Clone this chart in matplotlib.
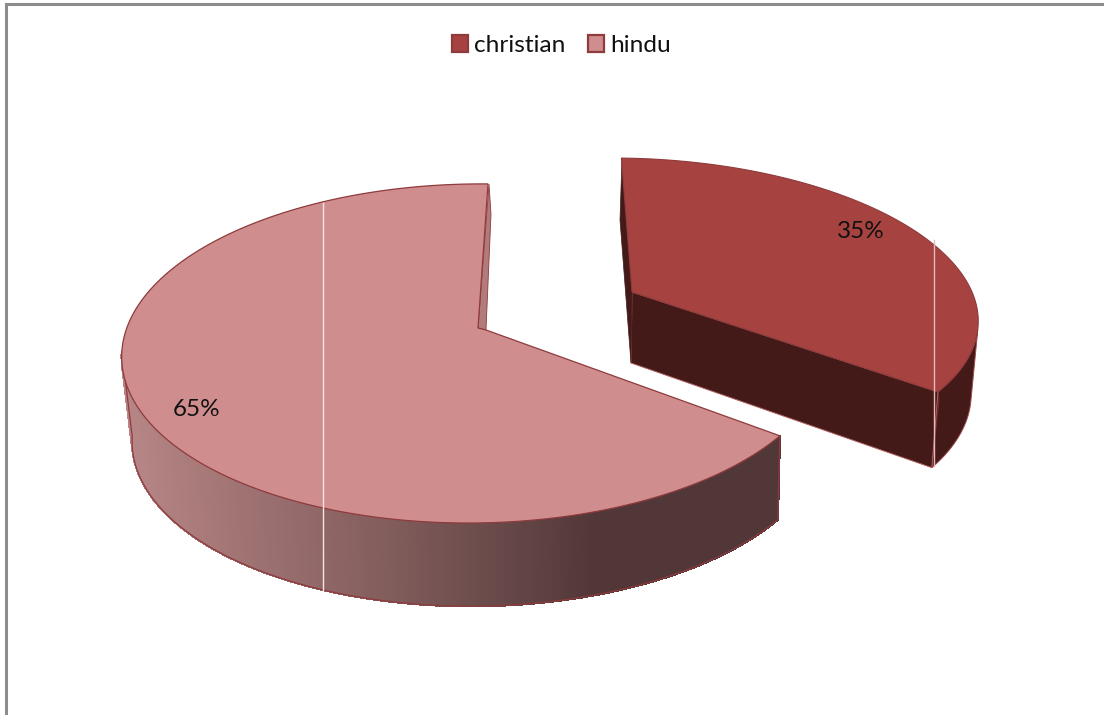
import numpy as np
import matplotlib
matplotlib.use("Agg")
import matplotlib.pyplot as plt
from matplotlib.collections import PolyCollection
from matplotlib.colors import LinearSegmentedColormap
from matplotlib.patches import Patch, Polygon

plt.rcParams["font.family"] = ["Lato", "DejaVu Sans"]

# Religion shares, in percent
categories = ["christian", "hindu"]
shares = [35, 65]

TOP_COLORS = {"christian": "#a64340", "hindu": "#cf8e8d"}
EDGE = "#8f3a3c"
START_ANGLE = -88.3


def project(theta_deg, apex, ax_x, ax_y, k, m, shear=0.0, tilt=0.0):
    """Perspective projection of a point on the unit rim to figure pixels."""
    t = np.radians(np.asarray(theta_deg, dtype=float))
    u, v = np.cos(t), np.sin(t)
    d = 1 - k * v - m * u
    return np.column_stack([apex[0] + (ax_x * u + shear * v) / d,
                            apex[1] + (ax_y * v + tilt * u) / d])


fig = plt.figure(figsize=(11.04, 7.15), dpi=100)
ax = fig.add_axes([0, 0, 1, 1])
ax.set_xlim(0, 1104)
ax.set_ylim(715, 0)
ax.axis("off")

# Chart-area frame, cut off at the right and bottom
ax.plot([5.5, 5.5, 1104], [715, 4, 4], color="#8c8c8c", lw=2.2, solid_joinstyle="miter")

sweep_c = 360 * shares[0] / sum(shares)
sweep_h = 360 * shares[1] / sum(shares)
boundary = START_ANGLE + sweep_c

# --- hindu slice ---
h_top = dict(apex=(479, 328), ax_x=349, ax_y=165.7, k=0.15, m=-0.012, tilt=-3.0)
h_bot = dict(apex=(479, 412), ax_x=343, ax_y=165.0, k=0.15, m=0.0, tilt=-4.0)
h_theta = np.linspace(boundary, boundary + sweep_h, 400)

wall_theta = np.linspace(173, boundary, 320)
wt, wb = project(wall_theta, **h_top), project(wall_theta, **h_bot)
shade = LinearSegmentedColormap.from_list(
    "wall", [(0.0, "#b88686"), (0.31, "#8f6666"), (0.42, "#7f5b5a"), (0.72, "#523738"), (1.0, "#523738")])
quads, cols = [], []
for i in range(len(wall_theta) - 1):
    quads.append([wt[i], wt[i + 1], wb[i + 1], wb[i]])
    cols.append(shade((wt[i, 0] - 120) / (782 - 120)))
ax.add_collection(PolyCollection(quads, facecolors=cols, edgecolors=cols, linewidths=1.0,
                                 antialiaseds=False, zorder=2))
outline = np.vstack([wt[:1], wb, wt[-1:]])
ax.plot(outline[:, 0], outline[:, 1], color=EDGE, lw=0.9, zorder=3)

rim = project(h_theta, **h_top)
ax.add_patch(Polygon([[489, 184], [491, 214], [486, 330], [478, 328]],
                     closed=True, fc="#b27b7b", ec=EDGE, lw=0.6, zorder=3))
ax.add_patch(Polygon(np.vstack([[478, 328], [486, 330], rim]), closed=True,
                     fc=TOP_COLORS["hindu"], ec=EDGE, lw=0.9, zorder=4))

# --- christian slice ---
c_top = dict(apex=(632, 292), ax_x=340, ax_y=150.8, k=0.1256, m=0.0, shear=22)
c_bot = dict(apex=(631, 363), ax_x=334, ax_y=158.0, k=0.1256, m=0.0, shear=22)
c_theta = np.linspace(START_ANGLE, boundary, 240)
dark = "#431a18"

side_theta = np.linspace(14, boundary, 120)
ct, cb = project(side_theta, **c_top), project(side_theta, **c_bot)
ax.add_patch(Polygon(np.vstack([[[977, 338]], ct, cb[::-1]]), closed=True,
                     fc=dark, ec="#9c4a4a", lw=0.7, zorder=2))
ax.add_patch(Polygon([ct[-1], cb[-1], [939, 400]], closed=True, fc=dark, ec="#7a3232", lw=0.6, zorder=3))
ax.add_patch(Polygon([[632, 292], ct[-1], cb[-1], [631, 363]], closed=True,
                     fc=dark, ec="#b06060", lw=0.7, zorder=3))
ax.add_patch(Polygon([[622, 158], [620, 220], [631, 363], [632, 292]], closed=True,
                     fc=dark, ec=dark, lw=0.5, zorder=3))
c_rim = project(c_theta, **c_top)
ax.add_patch(Polygon(np.vstack([[632, 292], c_rim]), closed=True,
                     fc=TOP_COLORS["christian"], ec=EDGE, lw=0.8, zorder=4))

# Thin light seams crossing each slice
ax.plot([323, 323], [203, 590], color="#f3e4e4", lw=1.0, zorder=6)
ax.plot([933.5, 933.5], [240, 466], color="#e6b9b9", lw=1.0, zorder=6)

# Percentage labels
ax.text(861, 232, f"{shares[0]}%", ha="center", va="center", fontsize=17.5, color="#111111", zorder=7)
ax.text(197, 409.5, f"{shares[1]}%", ha="center", va="center", fontsize=17.5, color="#111111", zorder=7)

# Legend across the top
handles = [Patch(fc=TOP_COLORS[c], ec=EDGE, lw=1.6, label=c) for c in categories]
ax.legend(handles=handles, loc="center", bbox_to_anchor=(561.5, 45.5), bbox_transform=ax.transData,
          ncols=2, frameon=False, fontsize=17.6, handlelength=0.66, handleheight=0.66,
          handletextpad=0.25, columnspacing=0.92, borderpad=0, borderaxespad=0, labelcolor="#111111")

fig.savefig("out.png", dpi=100)
